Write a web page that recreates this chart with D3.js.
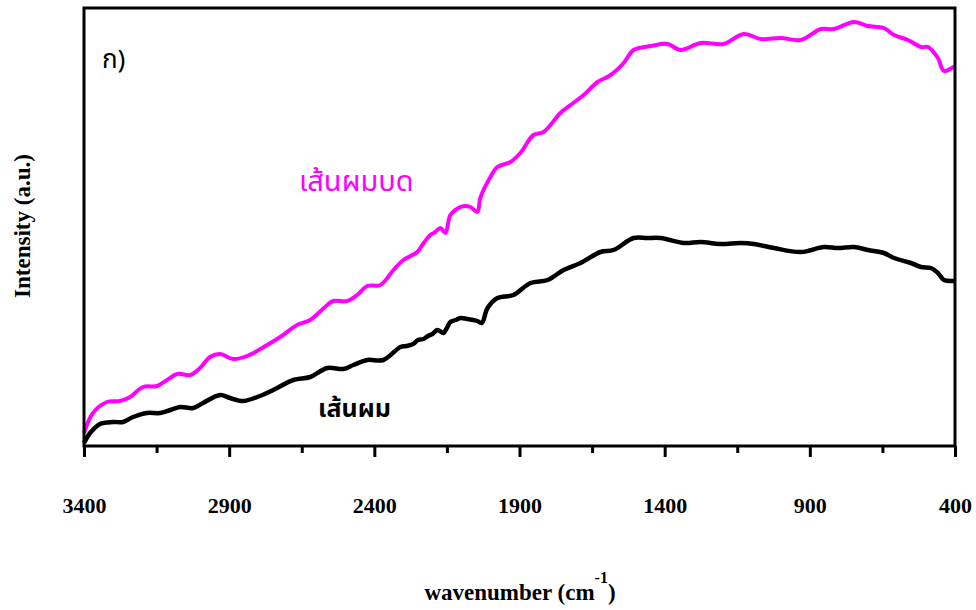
<!DOCTYPE html>
<html>
<head>
<meta charset="utf-8">
<script src="https://cdn.jsdelivr.net/npm/d3@7"></script>
<style>
  html, body { margin: 0; padding: 0; background: #fff; }
  svg { display: block; }
  .thai { font-family: "Noto Sans Thai", "Noto Sans", "DejaVu Sans", sans-serif; }
  .serif { font-family: "Liberation Serif", "Times New Roman", serif; font-weight: bold; }
</style>
</head>
<body>
<svg id="chart" width="976" height="610"></svg>
<script>
// FTIR spectra: wavenumber (cm^-1) and relative intensity (a.u.)
const wavenumberHair = [3400, 3379, 3345, 3300, 3266, 3231, 3183, 3138, 3103, 3069, 3024, 2990, 2931, 2897, 2852, 2803, 2748, 2679, 2621, 2562, 2507, 2472, 2424, 2369, 2310, 2290, 2266, 2250, 2231, 2215, 2200, 2183, 2162, 2150, 2138, 2120, 2103, 2080, 2059, 2045, 2030, 2010, 1976, 1921, 1862, 1803, 1748, 1690, 1621, 1576, 1507, 1460, 1414, 1334, 1276, 1207, 1138, 1093, 1024, 931, 852, 803, 748, 700, 645, 610, 552, 517, 483, 459, 438, 404, 400];
const intensityHair = [3, 13, 22, 24, 24, 29, 33, 33, 36, 39, 38, 43, 51, 48, 45, 49, 56, 66, 69, 78, 77, 81, 86, 86, 99, 100, 102, 106, 107, 110, 112, 116, 113, 118, 124, 126, 128, 127, 126, 125, 123, 138, 148, 151, 163, 166, 176, 183, 194, 196, 208, 208, 208, 203, 204, 202, 203, 202, 198, 194, 199, 198, 199, 196, 193, 188, 183, 179, 178, 173, 166, 165, 165];

const wavenumberGround = [3400, 3369, 3321, 3276, 3241, 3197, 3148, 3114, 3079, 3034, 3000, 2966, 2931, 2886, 2838, 2769, 2724, 2666, 2621, 2562, 2541, 2493, 2459, 2424, 2379, 2334, 2300, 2275, 2252, 2230, 2207, 2190, 2172, 2155, 2138, 2110, 2090, 2069, 2045, 2035, 2000, 1976, 1931, 1897, 1852, 1817, 1759, 1724, 1679, 1631, 1586, 1541, 1507, 1448, 1390, 1345, 1276, 1197, 1128, 1069, 1000, 931, 862, 817, 748, 700, 645, 610, 562, 517, 493, 459, 438, 404, 400];
const intensityGround = [13, 33, 44, 45, 49, 59, 60, 66, 72, 71, 78, 89, 92, 87, 90, 101, 109, 121, 126, 141, 145, 145, 151, 160, 161, 176, 186, 190, 194, 203, 211, 214, 218, 213, 231, 238, 240, 239, 234, 248, 269, 279, 284, 293, 311, 314, 333, 341, 351, 364, 371, 383, 396, 400, 402, 396, 403, 402, 412, 407, 408, 406, 417, 417, 424, 420, 418, 411, 406, 399, 399, 388, 375, 379, 379];

const majorTicks = [3400, 2900, 2400, 1900, 1400, 900, 400];
const minorTicks = [3150, 2650, 2150, 1650, 1150, 650];

const seriesLabels = { ground: "เส้นผมบด", hair: "เส้นผม" };
const panelLabel = "ก)";

const svg = d3.select("#chart");
const plotLeft = 84, plotRight = 955, plotTop = 8, plotBottom = 446;

const x = d3.scaleLinear().domain([3400, 400]).range([plotLeft, plotRight]);
const y = d3.scaleLinear().domain([0, 438]).range([plotBottom, plotTop]);

const line = d3.line()
  .x(d => x(d[0]))
  .y(d => y(d[1]))
  .curve(d3.curveCatmullRom.alpha(0.5));

const ground = d3.zip(wavenumberGround, intensityGround);
const hair = d3.zip(wavenumberHair, intensityHair);

svg.append("path").datum(ground)
  .attr("d", line).attr("fill", "none")
  .attr("stroke", "#ff00ff").attr("stroke-width", 4).attr("stroke-linejoin", "round");

svg.append("path").datum(hair)
  .attr("d", line).attr("fill", "none")
  .attr("stroke", "#000").attr("stroke-width", 4.5).attr("stroke-linejoin", "round");

// frame
svg.append("rect")
  .attr("x", plotLeft).attr("y", plotTop)
  .attr("width", plotRight - plotLeft).attr("height", plotBottom - plotTop)
  .attr("fill", "none").attr("stroke", "#000").attr("stroke-width", 3);

// bottom axis: major and minor ticks
const axisMajor = d3.axisBottom(x).tickValues(majorTicks).tickSize(11).tickPadding(40).tickFormat(d3.format("d"));
const gMajor = svg.append("g").attr("transform", `translate(0,${plotBottom})`).call(axisMajor);
gMajor.select(".domain").remove();
gMajor.selectAll(".tick line").attr("stroke-width", 3);
gMajor.selectAll(".tick text").attr("class", "serif").attr("font-size", 22).attr("fill", "#000");

const axisMinor = d3.axisBottom(x).tickValues(minorTicks).tickSize(7).tickFormat("");
const gMinor = svg.append("g").attr("transform", `translate(0,${plotBottom})`).call(axisMinor);
gMinor.select(".domain").remove();
gMinor.selectAll(".tick line").attr("stroke-width", 3);

// axis titles
const xt = svg.append("text").attr("class", "serif").attr("font-size", 23)
  .attr("x", 520).attr("y", 600).attr("text-anchor", "middle");
xt.append("tspan").text("wavenumber (cm");
xt.append("tspan").attr("font-size", 16).attr("dy", -17).text("-1");
xt.append("tspan").attr("dy", 17).text(")");

svg.append("text").attr("class", "serif").attr("font-size", 23)
  .attr("transform", "translate(30,226) rotate(-90)")
  .attr("text-anchor", "middle").text("Intensity (a.u.)");

// annotations
svg.append("text").attr("class", "thai").attr("font-size", 26)
  .attr("x", 102).attr("y", 68).attr("fill", "#000").text(panelLabel);

svg.append("text").attr("class", "thai").attr("font-size", 29)
  .attr("x", 299).attr("y", 191).attr("fill", "#ff00ff").text(seriesLabels.ground);

svg.append("text").attr("class", "thai").attr("font-size", 25).attr("font-weight", "bold")
  .attr("x", 318).attr("y", 417).attr("fill", "#000").text(seriesLabels.hair);
</script>
</body>
</html>
